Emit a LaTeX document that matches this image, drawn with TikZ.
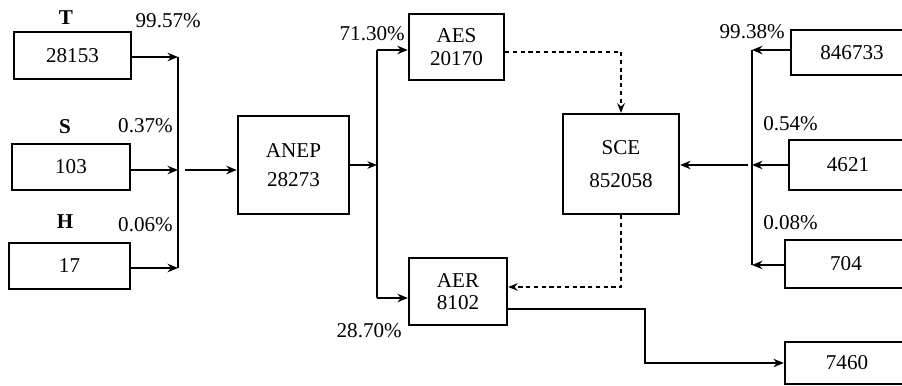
\documentclass[tikz,border=0pt]{standalone}
\usepackage{fontspec}
\setmainfont{Liberation Serif}
\usetikzlibrary{arrows.meta, positioning, calc}
\tikzset{
    numbox/.style={rectangle, draw=black, line width=1.6pt, minimum width=2.95cm, minimum height=1.16cm, inner sep=0pt, font=\fontsize{15}{17}\selectfont},
    bigbox/.style={rectangle, draw=black, line width=1.6pt, align=center, inner sep=0pt, font=\fontsize{15}{21}\selectfont},
    pct/.style={font=\fontsize{15}{17}\selectfont, inner sep=0pt},
    tag/.style={font=\fontsize{15}{17}\selectfont\bfseries, inner sep=0pt},
    arrow/.style={-{Stealth[length=2.6mm, width=2.1mm]}, line width=1.4pt},
    thinarrow/.style={-{Stealth[length=2.4mm, width=1.9mm]}, line width=0.8pt},
    bus/.style={line width=1.6pt},
    dasharrow/.style={-{Stealth[length=2.4mm, width=1.9mm]}, line width=1.4pt, dash pattern=on 3pt off 2.5pt},
}
\begin{document}
\begin{tikzpicture}[x=0.025cm, y=-0.025cm]
\useasboundingbox (0,0) rectangle (902,386);

% Column 1: sources
\node[numbox, minimum width=2.93cm] (t) at (72.5,55.5) {28153};
\node[numbox] (s) at (71,167) {103};
\node[numbox, minimum width=3.02cm] (h) at (69.5,266) {17};
\node[tag] (tlbl) at (66,18) {T};
\node[tag] (slbl) at (65,127) {S};
\node[tag] (hlbl) at (65,222) {H};
\node[pct, anchor=east] (pt) at (201,21) {99.57\%};
\node[pct, anchor=east] (ps) at (173,126) {0.37\%};
\node[pct, anchor=east] (ph) at (173,225) {0.06\%};

% left collector
\coordinate (lt) at (178,57);
\coordinate (lm) at (178,170);
\coordinate (lb) at (178,268);
\draw[bus] (lt) -- (lb);
\draw[arrow] (t.east |- lt) -- (lt);
\draw[arrow] (s.east |- lm) -- (lm);
\draw[arrow] (h.east |- lb) -- (lb);

% Column 2: ANEP
\node[bigbox, minimum width=2.78cm, minimum height=2.45cm] (anep) at (293.5,165) {ANEP\\28273};
\draw[arrow] ($(lm)+(7,0)$) -- (anep.west |- lm);

% middle split
\coordinate (mt) at (377,50);
\coordinate (mm) at (377,165);
\coordinate (mb) at (377,298);
\draw[bus] (mt) -- (mb);
\draw[thinarrow] (anep.east |- mm) -- (mm);

\node[bigbox, minimum width=2.38cm, minimum height=1.65cm] (aes) at (456.5,47) {AES\\[-5pt]20170};
\node[bigbox, minimum width=2.45cm, minimum height=1.68cm] (aer) at (458,291.5) {AER\\[-5pt]8102};
\draw[arrow] (mt) -- (aes.west |- mt);
\draw[arrow] (mb) -- (aer.west |- mb);
\node[pct, anchor=east] (paes) at (405,34) {71.30\%};
\node[pct, anchor=east] (paer) at (402,331) {28.70\%};

% SCE and its inputs
\node[bigbox, minimum width=2.9cm, minimum height=2.5cm] (sce) at (621,164) {SCE\\[2pt]852058};
\draw[dasharrow] (aes.east |- 0,52) -| (sce.north);
\draw[dasharrow] (sce.south) |- (aer.east |- 0,287);

\node[numbox, minimum width=3.05cm, minimum height=1.13cm] (r1) at (852,52.5) {846733};
\node[numbox, minimum width=2.95cm, minimum height=1.25cm] (r2) at (848,165) {4621};
\node[numbox, minimum width=3.05cm, minimum height=1.2cm] (r3) at (846,264) {704};
\node[pct, anchor=east] (pr1) at (785,32) {99.38\%};
\node[pct, anchor=west] (pr2) at (763,124) {0.54\%};
\node[pct, anchor=west] (pr3) at (763,223) {0.08\%};

% right collector
\coordinate (rt) at (752,50);
\coordinate (rm) at (752,165);
\coordinate (rb) at (752,265);
\draw[bus] (rt) -- (rb);
\draw[arrow] (r1.west |- rt) -- (rt);
\draw[arrow] (r2.west |- rm) -- (rm);
\draw[arrow] (r3.west |- rb) -- (rb);
\draw[arrow] ($(rm)+(-4,0)$) -- (sce.east |- rm);

% AER output
\node[numbox, minimum width=3.1cm, minimum height=1.05cm] (out) at (847,363) {7460};
\coordinate (turn) at (645,309);
\draw[arrow] (aer.east |- turn) -- (turn) |- (out.west);

\end{tikzpicture}
\end{document}
